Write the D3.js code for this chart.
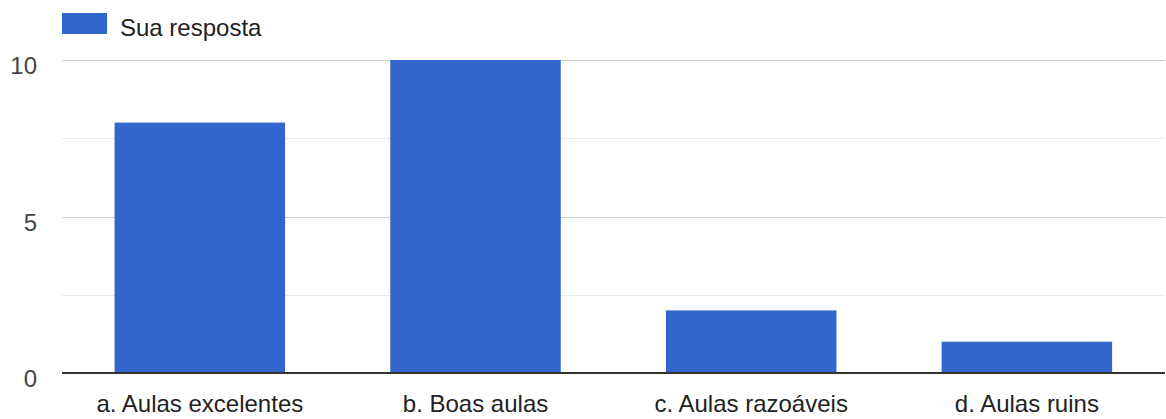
<!DOCTYPE html>
<html><head><meta charset="utf-8">
<script src="https://cdn.jsdelivr.net/npm/d3@7"></script>
<style>body{margin:0;background:#fff;}svg{display:block;font-family:"Liberation Sans",Arial,sans-serif;}</style>
</head><body>
<svg id="c" width="1166" height="419"></svg>
<script>
const categories = ["a. Aulas excelentes", "b. Boas aulas", "c. Aulas razoáveis", "d. Aulas ruins"];
const values = [8, 10, 2, 1];
const seriesName = "Sua resposta";
const majorTicks = [0, 5, 10];
const minorTicks = [2.5, 7.5];

(function () {
const svg = d3.select("#c");
const mLeft = 62, mRight = 1164.7, lineRight = 1165, mTop = 60, mBottom = 373;
const x = d3.scaleBand().domain(categories).range([mLeft, mRight]).paddingInner(0.3815).paddingOuter(0.19075);
const y = d3.scaleLinear().domain([0, 10]).range([mBottom, mTop]);

// minor gridlines
svg.append("g").selectAll("line").data(minorTicks).join("line")
  .attr("x1", mLeft).attr("x2", lineRight)
  .attr("y1", d => Math.round(y(d)) + 0.5).attr("y2", d => Math.round(y(d)) + 0.5)
  .attr("stroke", "#ebebeb").attr("stroke-width", 1);
// major gridlines
svg.append("g").selectAll("line").data(majorTicks.filter(d => d !== 0)).join("line")
  .attr("x1", mLeft).attr("x2", lineRight)
  .attr("y1", d => Math.round(y(d)) + 0.5).attr("y2", d => Math.round(y(d)) + 0.5)
  .attr("stroke", "#cccccc").attr("stroke-width", 1);

// y labels
const yAxis = d3.axisLeft(y).tickValues(majorTicks).tickSize(0).tickPadding(0);
const ya = svg.append("g").attr("transform", "translate(37,0)").call(yAxis);
ya.select(".domain").remove();
ya.selectAll("text").attr("font-size", 24).attr("fill", "#444").attr("dy", "0.58em")
  .attr("font-family", "Liberation Sans, Arial, sans-serif");

// bars
svg.append("g").selectAll("rect").data(values).join("rect")
  .attr("x", (d, i) => x(categories[i]))
  .attr("width", x.bandwidth())
  .attr("y", d => y(d))
  .attr("height", d => y(0) - y(d))
  .attr("fill", "#3366cc");

// baseline
svg.append("line").attr("x1", mLeft).attr("x2", lineRight)
  .attr("y1", y(0)).attr("y2", y(0)).attr("stroke", "#333").attr("stroke-width", 2);

// x labels
const xAxis = d3.axisBottom(x).tickSize(0).tickPadding(0);
const xa = svg.append("g").attr("transform", "translate(0,412)").call(xAxis);
xa.select(".domain").remove();
xa.selectAll("text").attr("font-size", 24).attr("fill", "#222").attr("dy", 0)
  .attr("font-family", "Liberation Sans, Arial, sans-serif");

// legend
const lg = svg.append("g");
lg.append("rect").attr("x", 62).attr("y", 13).attr("width", 45).attr("height", 21).attr("fill", "#3366cc");
lg.append("text").attr("x", 120).attr("y", 36).attr("font-size", 24).attr("fill", "#222").text(seriesName);
})();
</script>
</body></html>
